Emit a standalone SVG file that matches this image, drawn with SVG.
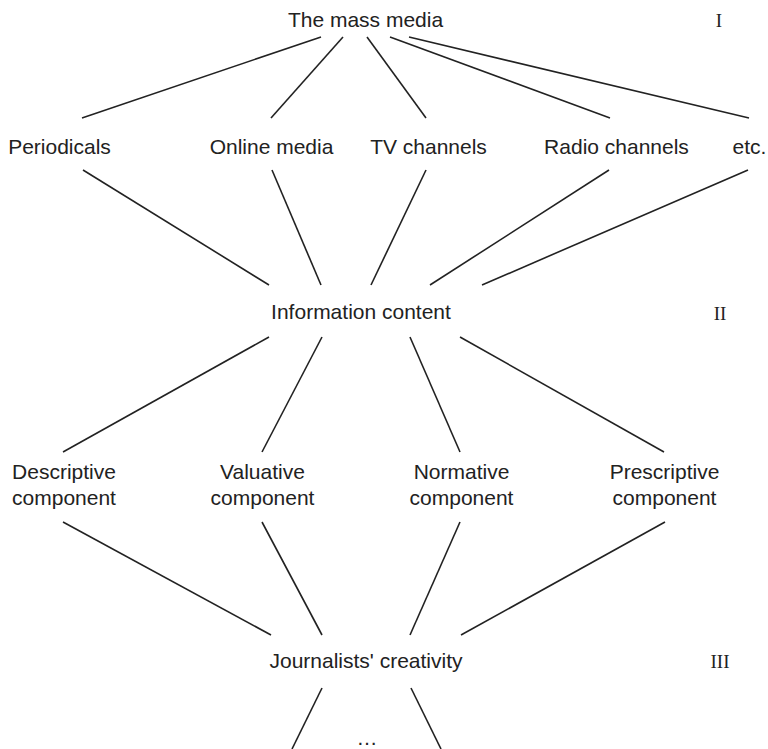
<svg xmlns="http://www.w3.org/2000/svg" width="768" height="749" viewBox="0 0 768 749">
<style>
.t{font-family:"Liberation Sans",Arial,sans-serif;font-size:21px;fill:#222;text-anchor:middle}
.r{font-family:"Liberation Serif","Times New Roman",serif;font-size:19px;fill:#222;text-anchor:middle}
.c line{stroke:#222;stroke-width:1.6;stroke-linecap:butt}
</style>
<rect width="768" height="749" fill="#fff"/>
<g class="c" id="connectors">
<line x1="321" y1="37" x2="82" y2="118"/>
<line x1="343" y1="37" x2="271" y2="118"/>
<line x1="367" y1="37" x2="426" y2="118"/>
<line x1="390" y1="37" x2="610" y2="118"/>
<line x1="409" y1="37" x2="749" y2="118"/>
<line x1="83" y1="170" x2="269" y2="285"/>
<line x1="272" y1="170" x2="321" y2="285"/>
<line x1="426" y1="170" x2="371" y2="285"/>
<line x1="609" y1="170" x2="430" y2="285"/>
<line x1="748" y1="170" x2="482" y2="285"/>
<line x1="269" y1="337" x2="63" y2="452"/>
<line x1="322" y1="337" x2="262" y2="452"/>
<line x1="410" y1="337" x2="460" y2="452"/>
<line x1="460" y1="337" x2="664" y2="452"/>
<line x1="63" y1="522" x2="271" y2="635"/>
<line x1="262" y1="522" x2="322" y2="635"/>
<line x1="460" y1="522" x2="410" y2="635"/>
<line x1="665" y1="522" x2="461" y2="635"/>
<line x1="322" y1="688" x2="292" y2="749"/>
<line x1="411" y1="688" x2="441" y2="749"/>
</g>
<g id="mass-media"><text class="t" x="365.5" y="27">The mass media</text></g>
<g id="periodicals"><text class="t" x="59.5" y="154">Periodicals</text></g>
<g id="online-media"><text class="t" x="271.5" y="154">Online media</text></g>
<g id="tv-channels"><text class="t" x="428.5" y="154">TV channels</text></g>
<g id="radio-channels"><text class="t" x="616.5" y="154">Radio channels</text></g>
<g id="etc"><text class="t" x="749.5" y="154">etc.</text></g>
<g id="information-content"><text class="t" x="361" y="319">Information content</text></g>
<g id="descriptive"><text class="t" x="64" y="479">Descriptive</text><text class="t" x="64" y="505">component</text></g>
<g id="valuative"><text class="t" x="262.5" y="479">Valuative</text><text class="t" x="262.5" y="505">component</text></g>
<g id="normative"><text class="t" x="461.5" y="479">Normative</text><text class="t" x="461.5" y="505">component</text></g>
<g id="prescriptive"><text class="t" x="664.5" y="479">Prescriptive</text><text class="t" x="664.5" y="505">component</text></g>
<g id="journalists-creativity"><text class="t" x="366" y="668">Journalists' creativity</text></g>
<g id="ellipsis"><text class="t" x="367" y="745">…</text></g>
<g id="levels">
<text class="r" x="719" y="27">I</text>
<text class="r" x="720" y="320">II</text>
<text class="r" x="720" y="668">III</text>
</g>
</svg>
